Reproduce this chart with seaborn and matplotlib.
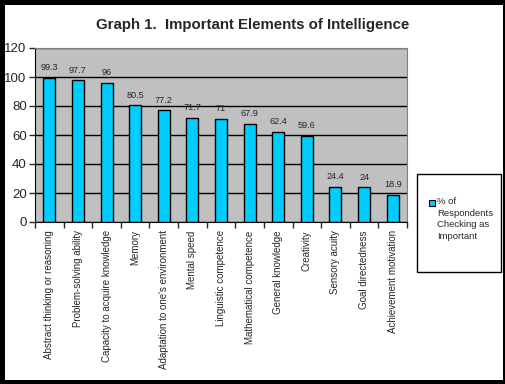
import numpy as np
import pandas as pd
import seaborn as sns
import matplotlib.pyplot as plt
from matplotlib.patches import Rectangle

# Chart data
elements = [
    'Abstract thinking or reasoning', 'Problem-solving ability', 'Capacity to acquire knowledge',
    'Memory', "Adaptation to one's environment", 'Mental speed', 'Linguistic competence',
    'Mathematical competence', 'General knowledge', 'Creativity', 'Sensory acuity',
    'Goal directedness', 'Achievement motivation',
]
percent = [99.3, 97.7, 96, 80.5, 77.2, 71.7, 71, 67.9, 62.4, 59.6, 24.4, 24, 18.9]
value_labels = ['99.3', '97.7', '96', '80.5', '77.2', '71.7', '71', '67.9', '62.4', '59.6', '24.4', '24', '18.9']
legend_label = '% of\nRespondents\nChecking as\nImportant'
title = 'Graph 1.  Important Elements of Intelligence'

df = pd.DataFrame({'element': elements, 'percent': percent})

sns.set_style('white')
plt.rcParams['font.family'] = ['Liberation Sans', 'DejaVu Sans']

W, H = 506, 384
fig = plt.figure(figsize=(W / 100, H / 100), dpi=100)
fig.patch.set_facecolor('black')
# white chart area inside the black border
fig.add_artist(Rectangle((5 / W, 4 / H), 498 / W, 375 / H, transform=fig.transFigure,
                         facecolor='white', edgecolor='none', zorder=0))

ax = fig.add_axes([35 / W, (H - 222) / H, 372 / W, 174 / H])
ax.set_facecolor('#C0C0C0')

sns.barplot(data=df, x='element', y='percent', order=elements, color='#00CCFF',
            edgecolor='black', linewidth=1, width=0.42, saturation=1, ax=ax, zorder=3)

ax.set_ylim(0, 120)
ax.set_xlim(-0.5, len(elements) - 0.5)
ax.set_yticks(np.arange(0, 121, 20))
ax.yaxis.grid(True, color='black', linewidth=1, zorder=1)
ax.set_axisbelow(True)
ax.tick_params(axis='y', labelsize=9.5, length=4, width=1, direction='out', left=True, pad=2)

# category labels at bar centres, tick marks between categories
ax.set_xticks(range(len(elements)))
ax.set_xticklabels(elements, rotation=90, fontsize=7)
ax.tick_params(axis='x', which='major', length=0, pad=6)
ax.set_xticks(np.arange(-0.5, len(elements)), minor=True)
ax.tick_params(axis='x', which='minor', length=4, width=1, bottom=True, direction='out')

ax.set_xlabel('')
ax.set_ylabel('')

for s in ['top', 'right']:
    ax.spines[s].set_color('#808080')
for s in ['left', 'bottom']:
    ax.spines[s].set_color('black')

for i, (v, lab) in enumerate(zip(percent, value_labels)):
    ax.annotate(lab, (i, v), xytext=(0, 4), textcoords='offset points',
                ha='center', va='bottom', fontsize=6.6)

fig.text(0.5, (H - 25) / H, title, ha='center', va='center', fontsize=10.8, fontweight='bold')

# legend box
fig.add_artist(Rectangle((417 / W, (H - 272) / H), 84 / W, 98 / H, transform=fig.transFigure,
                         facecolor='white', edgecolor='black', linewidth=1))
fig.add_artist(Rectangle((429 / W, (H - 206) / H), 6 / W, 6 / H, transform=fig.transFigure,
                         facecolor='#00CCFF', edgecolor='black', linewidth=0.8))
fig.text(437 / W, (H - 197) / H, legend_label, ha='left', va='top', fontsize=6.8, linespacing=1.38)

plt.savefig('out.png', dpi=100, facecolor=fig.get_facecolor())
